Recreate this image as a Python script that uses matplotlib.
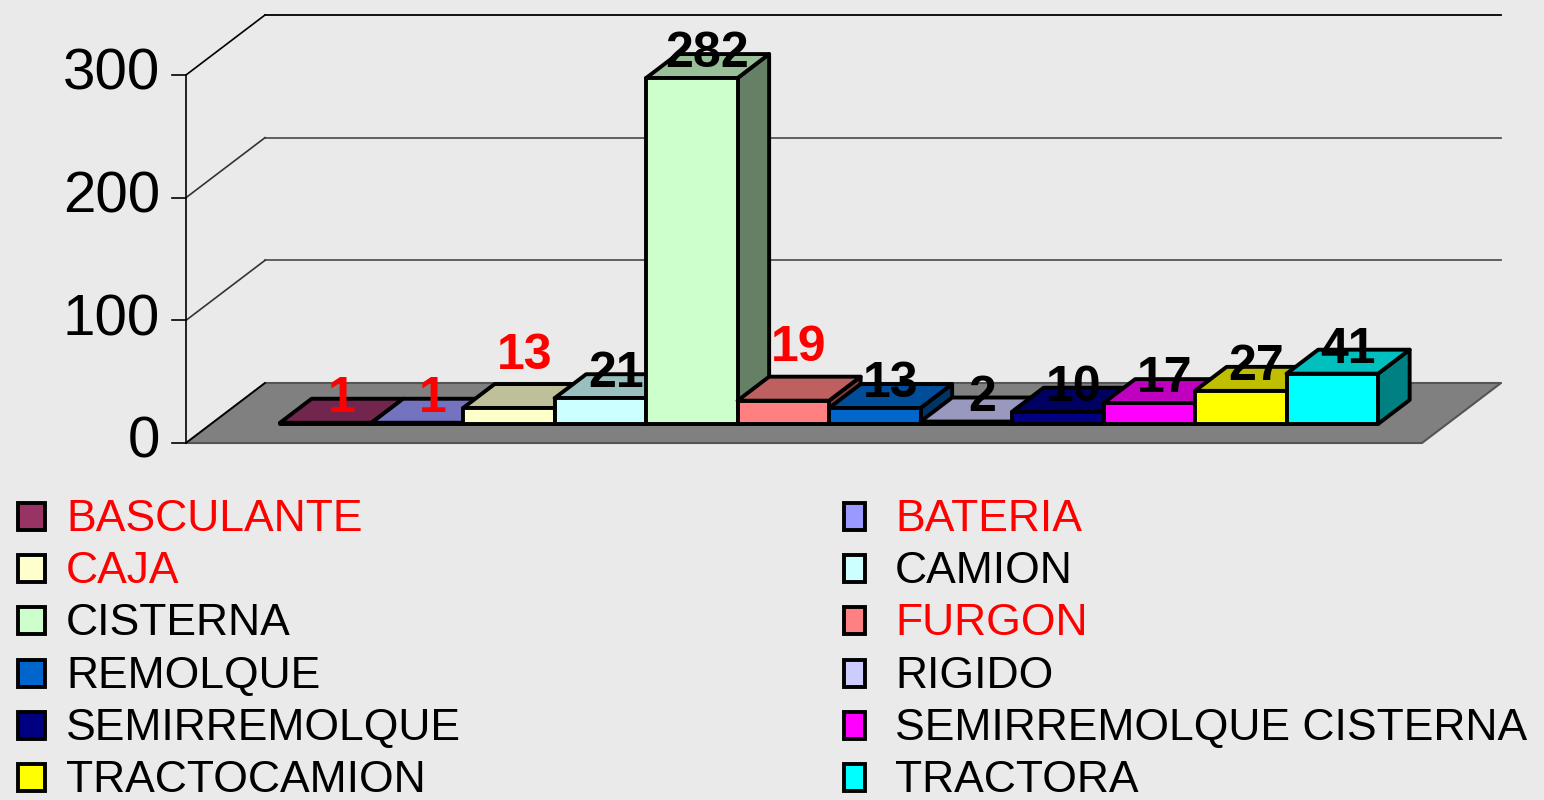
import matplotlib
matplotlib.use('Agg')
import matplotlib.pyplot as plt
from matplotlib.patches import Polygon, Rectangle
from matplotlib.colors import to_rgb

plt.rcParams['font.family'] = ['Liberation Sans', 'DejaVu Sans']

# datos
categorias = ['BASCULANTE', 'BATERIA', 'CAJA', 'CAMION', 'CISTERNA', 'FURGON',
              'REMOLQUE', 'RIGIDO', 'SEMIRREMOLQUE', 'SEMIRREMOLQUE CISTERNA',
              'TRACTOCAMION', 'TRACTORA']
valores = [1, 1, 13, 21, 282, 19, 13, 2, 10, 17, 27, 41]
colores = ['#993366', '#9999FF', '#FFFFCC', '#CCFFFF', '#CCFFCC', '#FF8080',
           '#0066CC', '#CCCCFF', '#000080', '#FF00FF', '#FFFF00', '#00FFFF']
destacados = ['BASCULANTE', 'BATERIA', 'CAJA', 'FURGON']   # texto en rojo
ticks_y = [0, 100, 200, 300]

# estilo: etiquetas que Excel desplazo hacia arriba (puntos)
subir_etiqueta = {'CAJA': 20, 'FURGON': 21}

W, H = 1544, 800
fondo = '#EAEAEA'
fig = plt.figure(figsize=(W / 100, H / 100), dpi=100, facecolor=fondo)

n = len(categorias)
margen = 0.754
ax = fig.add_axes([186 / W, 1 - 443 / H, 1236 / W, 368 / H])
xmin, xmax = -0.5 - margen, n - 0.5 + margen
ax.set_xlim(xmin, xmax)
ax.set_ylim(0, 300)
ax.axis('off')

px_x = 1236 / (xmax - xmin)     # pixeles por categoria
px_y = 368 / 300                # pixeles por unidad
DX = 79 / px_x                  # profundidad total del suelo
DY = 60 / px_y
z0, z1 = 0.317, 0.717           # profundidad de las barras


def p(x, v, z):
    return (x + DX * z, v + DY * z)


# suelo
suelo = Polygon([p(xmin, 0, 0), p(xmax, 0, 0), p(xmax, 0, 1), p(xmin, 0, 1)],
                closed=True, fc='#808080', ec='#555555', lw=1.5, clip_on=False, zorder=1)
ax.add_patch(suelo)

# lineas de division en paredes
for v in ticks_y:
    c = 'black' if v == max(ticks_y) else '#555555'
    a, b, d = p(xmin, v, 0), p(xmin, v, 1), p(xmax, v, 1)
    ax.plot([a[0], b[0]], [a[1], b[1]], color='black' if v in (0, 300) else '#333333',
            lw=1.2, clip_on=False, zorder=1.6)
    ax.plot([b[0], d[0]], [b[1], d[1]], color=c, lw=1.3, clip_on=False, zorder=1.5)
    ax.plot([xmin - 14 / px_x, xmin], [v, v], color='black', lw=1.2, clip_on=False, zorder=2)
    ax.text(xmin - 26 / px_x, v, str(v), ha='right', va='center', fontsize=42, color='black')
ax.plot([xmin, xmin], [0, max(ticks_y)], color='black', lw=1.2, clip_on=False, zorder=2)

# barras 3d
for i, (cat, v, col) in enumerate(zip(categorias, valores, colores)):
    rgb = to_rgb(col)
    arriba = tuple(c * 0.75 for c in rgb)
    lado = tuple(c * 0.5 for c in rgb)
    x0, x1 = i - 0.5, i + 0.5
    caras = [
        ([p(x1, 0, z0), p(x1, 0, z1), p(x1, v, z1), p(x1, v, z0)], lado),
        ([p(x0, v, z0), p(x1, v, z0), p(x1, v, z1), p(x0, v, z1)], arriba),
        ([p(x0, 0, z0), p(x1, 0, z0), p(x1, v, z0), p(x0, v, z0)], rgb),
    ]
    for pts, fc in caras:
        ax.add_patch(Polygon(pts, closed=True, fc=fc, ec='black', lw=2.8,
                             joinstyle='round', clip_on=False, zorder=3 + i))

for i, (cat, v) in enumerate(zip(categorias, valores)):
    xy = (i + DX * (z0 + z1) / 2, v + DY * z1)
    ax.annotate(str(v), xy, xytext=(0, subir_etiqueta.get(cat, 0)), textcoords='offset points',
                ha='center', va='center', fontsize=36, fontweight='bold',
                color='red' if cat in destacados else 'black',
                annotation_clip=False, zorder=30)

# leyenda en dos columnas
lay = fig.add_axes([0, 0, 1, 1])
lay.set_xlim(0, W)
lay.set_ylim(H, 0)
lay.axis('off')
for k, (cat, col) in enumerate(zip(categorias, colores)):
    fila, columna = divmod(k, 2)
    base = 531 + 52.2 * fila
    sx = [18, 844][columna]
    sw = [27, 21][columna]
    lay.add_patch(Rectangle((sx, base - 28), sw, 27, fc=col, ec='black', lw=2.8))
    lay.text([66, 895][columna], base, cat, ha='left', va='baseline', fontsize=32,
             color='red' if cat in destacados else 'black')

fig.savefig('out.png', dpi=100, facecolor=fondo)
